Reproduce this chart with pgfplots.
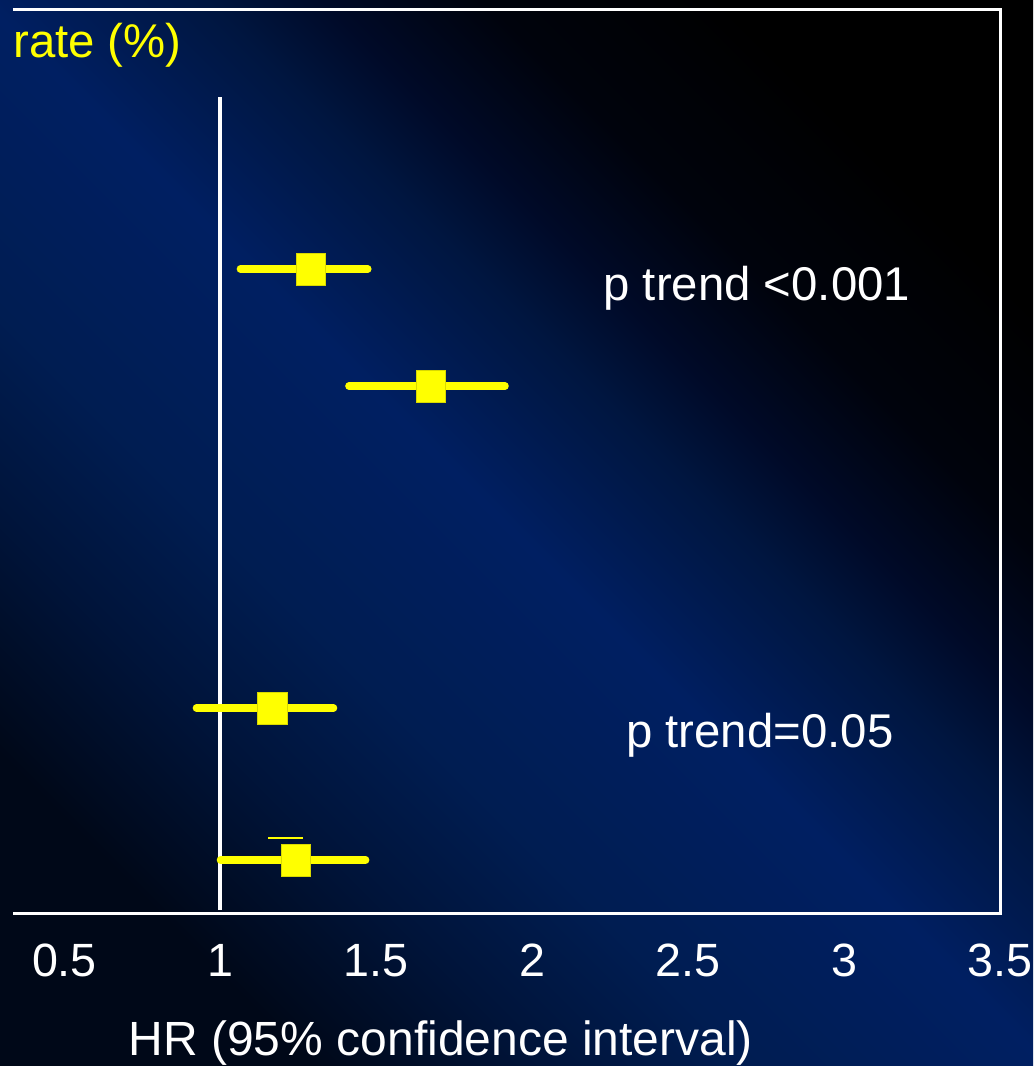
\documentclass[border=0pt]{standalone}
\usepackage{pgfplots}
\pgfplotsset{compat=1.18}
\usepackage{fontspec}
\setmainfont{Liberation Sans}
\definecolor{bgA}{HTML}{00030C}
\definecolor{bgB}{HTML}{000A28}
\definecolor{bgC}{HTML}{001640}
\definecolor{bgblue}{HTML}{001F62}
\definecolor{bgD}{HTML}{001D52}
\definecolor{bgE}{HTML}{00143A}
\definecolor{bgdark}{HTML}{000818}
\definecolor{ylw}{HTML}{FFFF00}
\pgfdeclarehorizontalshading{bgshade}{100bp}{color(0bp)=(black); color(25bp)=(black); color(33bp)=(bgA); color(38.5bp)=(bgB); color(42.5bp)=(bgC); color(50bp)=(bgblue); color(60bp)=(bgD); color(67bp)=(bgE); color(75bp)=(bgdark); color(100bp)=(bgdark)}
\pgfplotstableread{
x y ep em
1.289 644 0.184 0.225
1.675 527 0.238 0.263
1.167 205 0.196 0.244
1.241 53 0.225 0.241
}\hrdata
\begin{document}
\begin{tikzpicture}[x=0.75pt,y=0.75pt]
\shade[use as bounding box, shading=bgshade, shading angle=225] (-13,-153) rectangle (1020,913);
\begin{axis}[at={(0,0)}, anchor=south west, scale only axis,
  width=740.25pt, height=677.25pt,
  xmin=0.335, xmax=3.5, ymin=0, ymax=903, clip=false,
  axis line style={draw=none},
  ytick=\empty,
  xtick={0.5,1,1.5,2,2.5,3,3.5},
  xticklabels={0.5,1,1.5,2,2.5,3,3.5},
  major tick length=0pt,
  xticklabel style={text=white, font=\fontsize{35}{42}\selectfont, yshift=-20pt},
]
\draw[white, line width=2.25pt] (rel axis cs:0,1) -- (rel axis cs:1,1) -- (rel axis cs:1,0) -- (rel axis cs:0,0);
\addplot[white, line width=3pt] coordinates {(1,3) (1,816)};
\addplot[ylw, line width=1.2pt] coordinates {(1.154,75) (1.264,75)};
\addplot[only marks, mark=square*, mark size=11pt, color=ylw,
  mark options={draw=ylw!85!black, line width=0.5pt, yscale=1.1},
  error bars/.cd, x dir=both, x explicit, error mark=none,
  error bar style={line width=5.5pt, line cap=round, ylw}]
  table[x=x, y=y, x error plus=ep, x error minus=em] {\hrdata};
\node[anchor=center, text=white, font=\fontsize{35.5}{42}\selectfont] at (axis cs:2.720,625) {p trend <0.001};
\node[anchor=center, text=white, font=\fontsize{35.5}{42}\selectfont] at (axis cs:2.730,178) {p trend=0.05};
\node[anchor=west, inner sep=0pt, text=ylw, font=\fontsize{35.5}{42}\selectfont] at (axis cs:0.335,868) {rate (\%)};
\node[anchor=center, text=white, font=\fontsize{36}{42}\selectfont] at (axis cs:1.707,-130) {HR (95\% confidence interval)};
\end{axis}
\end{tikzpicture}
\end{document}
